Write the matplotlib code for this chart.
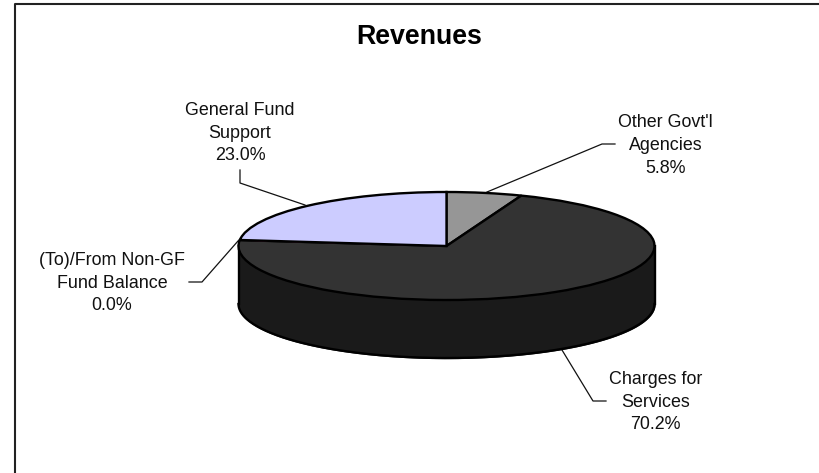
import numpy as np
import matplotlib
matplotlib.use('Agg')
import matplotlib.pyplot as plt

plt.rcParams['font.family'] = ['Liberation Sans', 'DejaVu Sans']

# pie data, clockwise from 12 o'clock
names = ["Other Govt'l\nAgencies", "Charges for\nServices", "(To)/From Non-GF\nFund Balance", "General Fund\nSupport"]
values = [5.8, 70.2, 0.04, 23.0]
shown = ["5.8%", "70.2%", "0.0%", "23.0%"]
colors = ['#969696', '#333333', '#993366', '#ccccff']
side_color = '#1a1a1a'

# label centres in pixels
label_pos = [(665.5, 145.5), (655.5, 402), (112, 283), (240, 133)]
# leader lines in pixels
leaders = [([615, 602, 487], [144, 144, 192]),
           ([606, 593, 562], [401, 401, 350]),
           ([189, 202, 238], [282, 282, 241]),
           ([240, 240, 305], [170, 183, 205])]

W, H = 819, 473
fig = plt.figure(figsize=(W / 100, H / 100), dpi=100)

# ellipse in pixels
cx, cy, a, b, depth = 446.5, 246, 208, 54, 58
pie_ax = fig.add_axes([(cx - a) / W, 1 - (cy + b) / H, 2 * a / W, 2 * b / H], zorder=2)
wedges, _ = pie_ax.pie(values, colors=colors, startangle=90, counterclock=False, radius=1,
                       wedgeprops=dict(edgecolor='black', linewidth=1.7))
wedges[2].set_edgecolor('#993366')
wedges[2].set_linewidth(0.8)
pie_ax.set_aspect('auto')
pie_ax.set_xlim(-1, 1)
pie_ax.set_ylim(-1, 1)

# side wall of the disc
t = np.linspace(np.pi, 2 * np.pi, 200)
d = 2 * depth / (2 * b)
pie_ax.fill_between(np.cos(t), np.sin(t) - d, np.sin(t), color=side_color, zorder=0, clip_on=False)
pie_ax.plot(np.cos(t), np.sin(t) - d, color='black', lw=1.7, clip_on=False, zorder=0.5)
pie_ax.plot([-1, -1], [0, -d], color='black', lw=1.7, clip_on=False, zorder=0.5)
pie_ax.plot([1, 1], [0, -d], color='black', lw=1.7, clip_on=False, zorder=0.5)

# overlay in pixel coordinates
over = fig.add_axes([0, 0, 1, 1], zorder=1)
over.set_xlim(0, W)
over.set_ylim(H, 0)
over.axis('off')
over.patch.set_alpha(0)

# frame, only top and left are inside the picture
over.plot([15, 15, W], [H, 4.5, 4.5], color='#222222', lw=1.5)

for (lx, ly) in leaders:
    over.plot(lx, ly, color='#111111', lw=0.9)

for name, s, (x, y) in zip(names, shown, label_pos):
    over.text(x, y, name + "\n" + s, ha='center', va='center', fontsize=12.9,
              color='#111111', linespacing=1.45)
over.text(419.5, 37, "Revenues", ha='center', va='center', fontsize=19.3, fontweight='bold', color='black')

fig.savefig('out.png', dpi=100)
